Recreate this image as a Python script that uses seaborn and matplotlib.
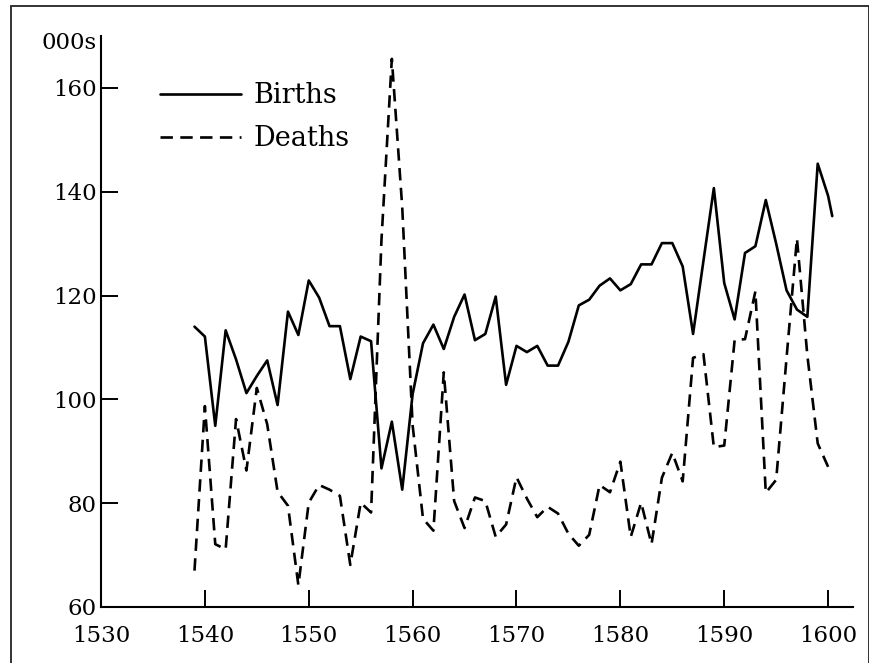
import matplotlib
matplotlib.use("Agg")
import matplotlib.pyplot as plt
import matplotlib.patches as patches
import seaborn as sns

# English births and deaths, thousands per year
years = list(range(1539, 1601))
births_tail_year = 1600.4
births_tail_value = 135.3

births = [
    114.0, 112.1, 94.9, 113.3, 107.7, 101.2, 104.5, 107.5, 98.9, 116.9,
    112.4, 122.9, 119.6, 114.1, 114.1, 103.9, 112.1, 111.2, 86.7, 95.7,
    82.6, 101.0, 110.8, 114.4, 109.7, 115.9, 120.2, 111.4, 112.6, 119.8,
    102.8, 110.3, 109.1, 110.3, 106.5, 106.5, 111.1, 118.1, 119.2, 121.9,
    123.3, 121.0, 122.2, 126.0, 126.0, 130.1, 130.1, 125.6, 112.6, 126.7,
    140.7, 122.4, 115.4, 128.2, 129.5, 138.4, 130.0, 121.0, 117.3, 115.9,
    145.4, 139.2,
]
deaths = [
    67.0, 98.7, 72.1, 71.1, 96.2, 86.3, 102.2, 95.2, 82.2, 79.5,
    64.2, 80.1, 83.5, 82.6, 81.4, 68.1, 80.1, 78.2, 130.7, 165.6,
    137.0, 95.0, 77.0, 74.7, 105.2, 80.4, 75.2, 81.1, 80.4, 73.5,
    75.9, 85.0, 80.9, 77.3, 79.3, 78.0, 74.1, 71.8, 73.9, 83.5,
    82.1, 88.0, 73.5, 80.1, 72.1, 84.9, 89.7, 84.2, 108.0, 108.7,
    90.8, 91.1, 111.4, 111.6, 120.8, 82.0, 84.5, 108.0, 131.0, 108.5,
    91.5, 87.0,
]

x_ticks = [1530, 1540, 1550, 1560, 1570, 1580, 1590, 1600]
y_ticks = [60, 80, 100, 120, 140, 160]

sns.set_style("white")
plt.rcParams["font.family"] = ["DejaVu Serif"]
plt.rcParams["font.size"] = 16.5
plt.rcParams["text.color"] = "black"

fig = plt.figure(figsize=(8.7, 6.63), dpi=100)
ax = fig.add_axes([0.1161, 0.0845, 0.8644, 0.8612])

sns.lineplot(x=years + [births_tail_year], y=births + [births_tail_value],
             ax=ax, color="black", linewidth=1.9, label="Births")
sns.lineplot(x=years, y=deaths, ax=ax, color="black", linewidth=1.9,
             linestyle=(0, (4.7, 2.8)), label="Deaths")

ax.set_xlim(1530, 1602.4)
ax.set_ylim(60, 170)
ax.set_xticks(x_ticks)
ax.set_yticks(y_ticks)
ax.set_xlabel("")
ax.set_ylabel("")

for side in ["top", "right"]:
    ax.spines[side].set_visible(False)
for side in ["left", "bottom"]:
    ax.spines[side].set_linewidth(1.5)
    ax.spines[side].set_color("black")

ax.tick_params(axis="both", direction="in", length=12.5, width=1.4,
               colors="black", labelsize=16.5, bottom=True, left=True)
ax.tick_params(axis="y", pad=3)
ax.tick_params(axis="x", pad=13)

ax.annotate("000s", xy=(0, 168.7), xycoords=("axes fraction", "data"),
            xytext=(-3, 0), textcoords="offset points",
            ha="right", va="center", fontsize=16.5, color="black")

leg = ax.legend(loc="upper left", bbox_to_anchor=(160 / 870, 1 - 82 / 663),
                bbox_transform=fig.transFigure, frameon=False,
                handlelength=3.0, handletextpad=0.45, labelspacing=0.6,
                borderpad=0, borderaxespad=0, fontsize=19.5)

# thin frame around the whole picture
fig.add_artist(patches.Rectangle((11 / 870, -0.02), 858 / 870, 1.02 - 6 / 663,
                                 transform=fig.transFigure, fill=False,
                                 edgecolor="#222222", linewidth=1.3, clip_on=False))

fig.savefig("out.png", dpi=100)
plt.close(fig)
